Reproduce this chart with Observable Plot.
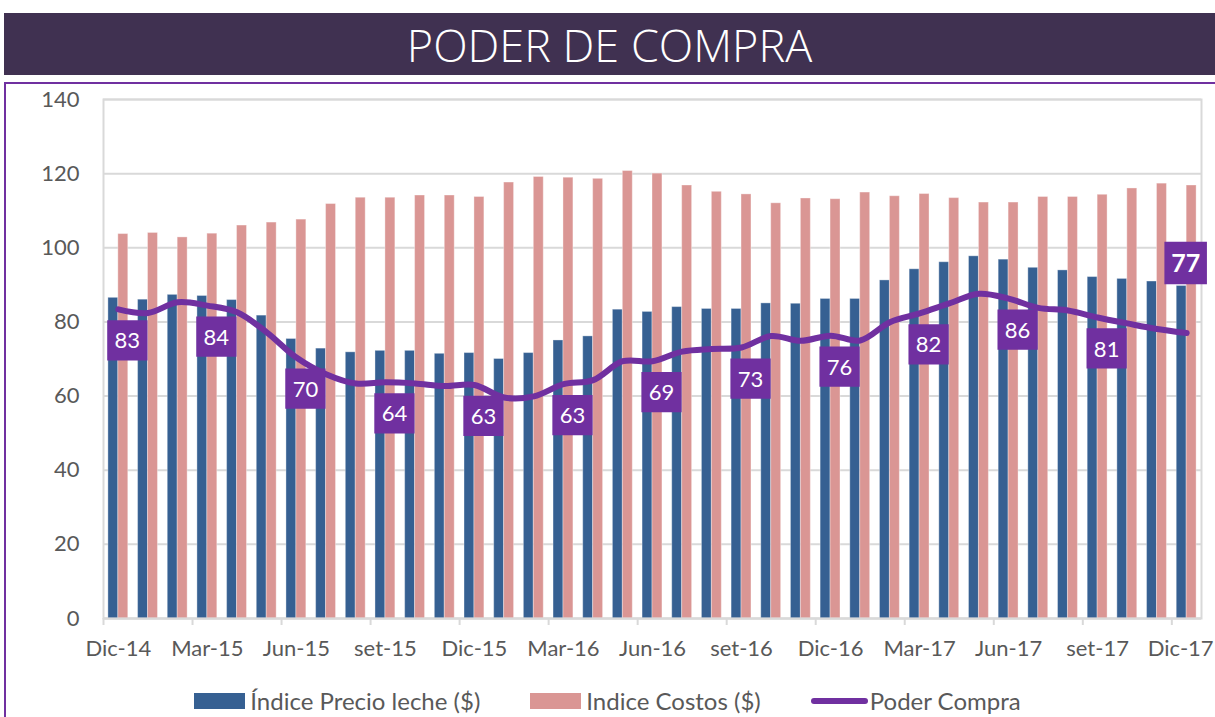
<!DOCTYPE html>
<html>
<head>
<meta charset="utf-8">
<script src="https://cdn.jsdelivr.net/npm/d3@7"></script>
<script src="https://cdn.jsdelivr.net/npm/@observablehq/plot@0.6"></script>
<style>
  html, body { margin: 0; padding: 0; background: #fff; width: 1215px; height: 717px; overflow: hidden; }
  #title { position: absolute; left: 4px; top: 13px; width: 1211px; height: 62px; background: #403151;
    color: #fff; font-family: "Open Sans", Lato, sans-serif; font-weight: 300; font-size: 45px;
    display: flex; align-items: center; justify-content: center; letter-spacing: 0px; }
  #frame { position: absolute; left: 4px; top: 82px; width: 1230px; height: 660px;
    border-left: 2px solid #7030A0; border-top: 2px solid #7030A0; }
  #chart { position: absolute; left: 0; top: 82px; }
  #legend { position: absolute; top: 686px; left: 0; width: 1215px; display: flex; justify-content: center;
    font-family: Lato, sans-serif; font-size: 24px; color: #595959; align-items: center; }
  .item { display: flex; align-items: center; margin: 0 25px 0 25px; }
  .sw { width: 51px; height: 16px; margin-right: 5px; }
  .ln { width: 57px; height: 6px; border-radius: 3px; background: #7030A0; margin-right: 2px; }
</style>
</head>
<body>
<div id="title">PODER DE COMPRA</div>
<div id="frame"></div>
<div id="chart"></div>
<div id="legend"></div>
<script>
const months = ["Dic-14","Ene-15","Feb-15","Mar-15","Abr-15","May-15","Jun-15","Jul-15","Ago-15","set-15","Oct-15","Nov-15","Dic-15","Ene-16","Feb-16","Mar-16","Abr-16","May-16","Jun-16","Jul-16","Ago-16","set-16","Oct-16","Nov-16","Dic-16","Ene-17","Feb-17","Mar-17","Abr-17","May-17","Jun-17","Jul-17","Ago-17","set-17","Oct-17","Nov-17","Dic-17"];
const leche = [86.5,86.0,87.3,87.0,85.9,81.7,75.4,72.8,71.8,72.2,72.2,71.4,71.6,70.0,71.6,75.0,76.1,83.3,82.7,84.0,83.5,83.5,85.0,84.9,86.2,86.2,91.2,94.2,96.1,97.7,96.8,94.6,93.9,92.1,91.6,90.9,89.7];
const costos = [103.7,104.0,102.8,103.8,106.0,106.8,107.6,111.8,113.5,113.5,114.1,114.1,113.7,117.6,119.1,118.9,118.6,120.7,120.0,116.8,115.1,114.4,112.0,113.3,113.1,114.9,113.9,114.5,113.4,112.2,112.2,113.7,113.7,114.3,116.0,117.3,116.8];
const poder = [83.4,82.4,85.3,84.4,82.6,77.2,70.4,65.9,63.4,63.7,63.4,62.7,63.0,59.6,59.9,63.2,64.3,69.4,69.4,72.0,72.7,73.1,76.2,74.9,76.3,75.0,79.9,82.3,85.0,87.6,86.3,83.8,83.1,81.2,79.6,78.1,77.0];
const yTicks = [0,20,40,60,80,100,120,140];
const seriesNames = ["Índice Precio leche ($)", "Indice Costos ($)", "Poder Compra"];
const colors = ["#366092", "#DA9694", "#7030A0"];

const rows = months.map((m, i) => ({i, m, leche: leche[i], costos: costos[i], poder: poder[i]}));
const labelIdx = rows.filter(d => d.i % 3 === 0);
const regular = labelIdx.filter(d => d.i !== months.length - 1);
const last = labelIdx.filter(d => d.i === months.length - 1);
const tickIdx = d3.range(0, months.length, 3);
const tickMain = tickIdx.filter(i => i !== months.length - 1);
const tickLast = [months.length - 1];
const bounds = tickIdx.map(i => i - 0.5);
const bw = 0.335;

const chart = Plot.plot({
  width: 1215,
  height: 600,
  marginTop: 17,
  marginLeft: 103,
  marginRight: 14,
  marginBottom: 64,
  style: {fontFamily: "Lato, sans-serif", fontSize: "22px", color: "#595959", background: "transparent"},
  x: {type: "linear", domain: [-0.5, months.length - 0.5]},
  y: {domain: [0, 140]},
  marks: [
    Plot.gridY(yTicks, {stroke: "#d9d9d9", strokeOpacity: 1, strokeWidth: 2}),
    Plot.frame({stroke: "#d9d9d9", strokeWidth: 2}),
    Plot.rectY(rows, {x1: d => d.i - bw, x2: d => d.i, y: "leche", fill: colors[0], stroke: "#ffffff", strokeOpacity: 0.35, strokeWidth: 1, inset: 0}),
    Plot.rectY(rows, {x1: d => d.i, x2: d => d.i + bw, y: "costos", fill: colors[1], stroke: "#ffffff", strokeOpacity: 0.35, strokeWidth: 1, inset: 0}),
    Plot.line(rows, {x: "i", y: "poder", stroke: colors[2], strokeWidth: 6, curve: "catmull-rom"}),
    Plot.dot(regular, {x: "i", y: "poder", symbol: "square", r: 22.7, fill: colors[2], dx: 9, dy: 31}),
    Plot.text(regular, {x: "i", y: "poder", text: d => String(Math.round(d.poder)), fill: "#fff", fontSize: 22, dx: 9, dy: 32}),
    Plot.dot(last, {x: "i", y: "poder", symbol: "square", r: 24, fill: colors[2], dx: -1, dy: -70}),
    Plot.text(last, {x: "i", y: "poder", text: d => String(Math.round(d.poder)), fill: "#fff", fontSize: 25, fontWeight: "bold", dx: -1, dy: -69}),
    Plot.axisY(yTicks, {tickSize: 0, tickPadding: 24, label: null, fill: "#595959"}),
    Plot.axisX(tickMain, {tickSize: 0, tickPadding: 22, tickFormat: i => months[i], label: null, fill: "#595959"}),
    Plot.axisX(tickLast, {tickSize: 0, tickPadding: 22, tickFormat: i => months[i], label: null, fill: "#595959", dx: -6}),
    Plot.axisX(bounds, {tickSize: 7, tickFormat: () => "", label: null, stroke: "#d9d9d9", strokeWidth: 2}),
    Plot.ruleY([0], {stroke: "#d9d9d9", strokeWidth: 2})
  ]
});
document.getElementById("chart").appendChild(chart);

const legend = document.getElementById("legend");
seriesNames.forEach((name, k) => {
  const item = document.createElement("div");
  item.className = "item";
  const sw = document.createElement("div");
  if (k < 2) { sw.className = "sw"; sw.style.background = colors[k]; }
  else { sw.className = "ln"; }
  const t = document.createElement("span");
  t.textContent = name;
  item.appendChild(sw); item.appendChild(t);
  legend.appendChild(item);
});
</script>
</body>
</html>
